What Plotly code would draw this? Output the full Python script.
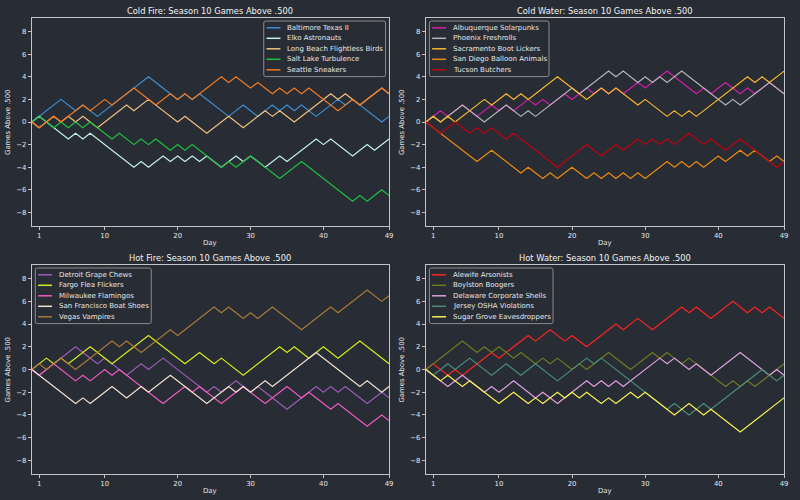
import plotly.graph_objects as go

# ---------------- data: (day, games above .500) at each turning point ----------------
DAY_TICKS = [1, 10, 20, 30, 40, 49]
VALUE_TICKS = [-8, -6, -4, -2, 0, 2, 4, 6, 8]

# Cold Fire
BALTIMORE = [(0,0),(4,2),(6,1),(7,1.5),(9,0.5),(16,4),(19,2.5),(20,2),(21,2.5),(22,2),(23,2.5),(27,0.5),
             (29,1.5),(31,0.5),(33,1.5),(34,1),(35,1.5),(36,1),(37,1.5),(39,0.5),(42,2),(43,1.5),(44,2),(48,0),(49,0.5)]
ELKO = [(0,0),(1,0.5),(5,-1.5),(6,-1),(7,-1.5),(8,-1),(14,-4),(15,-3.5),(16,-4),(18,-3),(19,-3.5),(20,-3),(21,-3.5),
        (22,-3),(23,-3.5),(24,-3),(26,-4),(27,-3.5),(28,-3),(29,-3.5),(30,-3),(32,-4),(33,-3.5),(34,-3),(35,-3.5),
        (39,-1.5),(40,-2),(41,-1.5),(44,-3),(46,-2),(47,-2.5),(49,-1.5)]
LONG_BEACH = [(0,0),(1,-0.5),(2,0),(3,0.5),(4,0),(5,0.5),(6,0),(7,0.5),(9,-0.5),(13,1.5),(14,1),(16,2),(20,0),(21,0.5),
              (24,-1),(27,0.5),(29,-0.5),(32,1),(33,0.5),(34,1),(36,0),(41,2.5),(42,2),(43,2.5),(45,1.5),(48,3),(49,2.5)]
SALT_LAKE = [(0,0),(1,0.5),(2,0),(3,-0.5),(4,0),(5,-0.5),(6,0),(7,-0.5),(8,0),(11,-1.5),(12,-1),(14,-2),(15,-1.5),(16,-2),
             (17,-1.5),(19,-2.5),(20,-2),(21,-2.5),(22,-2),(26,-4),(27,-3.5),(28,-4),(30,-3),(33,-4.5),(34,-5),(37,-3.5),
             (44,-7),(45,-6.5),(46,-7),(48,-6),(49,-6.5)]
SEATTLE = [(0,0),(1,-0.5),(3,0.5),(4,0),(7,1.5),(8,1),(10,2),(11,1.5),(14,3),(17,1.5),(19,2.5),(20,2),(21,2.5),(22,2),
           (26,4),(27,3.5),(28,4),(30,3),(31,3.5),(33,2.5),(34,3),(35,2.5),(36,3),(37,2.5),(38,3),(42,1),(44,2),(45,1.5),
           (48,3),(49,2.5)]

# Cold Water
ALBUQUERQUE = [(0,0),(2,1),(3,0.5),(4,1),(5,1.5),(6,1),(7,0.5),(9,1.5),(10,1),(11,1.5),(12,1),(14,2),(15,1.5),(16,2),
               (17,1.5),(19,2.5),(20,2),(21,2.5),(22,3),(23,2.5),(24,3),(25,2.5),(26,3),(27,2.5),(29,3.5),(30,3),(32,4),
               (33,4.5),(37,2.5),(38,3),(39,2.5),(41,3.5),(43,2.5),(44,3),(45,2.5),(47,3.5),(49,2.5)]
PHOENIX = [(0,0),(1,0.5),(2,0),(3,0.5),(5,1.5),(8,0),(11,1.5),(13,0.5),(14,1),(15,0.5),(20,3),(21,2.5),(25,4.5),(26,4),
           (27,4.5),(29,3.5),(30,4),(31,3.5),(32,4),(33,3.5),(35,4.5),(41,1.5),(42,2),(43,1.5),(47,3.5),(49,2.5)]
SACRAMENTO = [(0,0),(1,0.5),(2,0),(3,0.5),(4,0),(8,2),(9,1.5),(11,2.5),(12,2),(13,2.5),(14,2),(18,4),(22,2),(24,3),
              (25,2.5),(26,3),(29,1.5),(30,2),(33,0.5),(34,1),(35,0.5),(36,1),(37,0.5),(44,4),(45,3.5),(46,4),(47,3.5),
              (49,4.5)]
SAN_DIEGO = [(0,0),(7,-3.5),(9,-2.5),(13,-4.5),(14,-4),(16,-5),(17,-4.5),(18,-5),(20,-4),(22,-5),(23,-4.5),(24,-5),
             (25,-4.5),(26,-5),(27,-4.5),(28,-5),(29,-4.5),(30,-5),(33,-3.5),(34,-4),(35,-3.5),(36,-4),(37,-3.5),(38,-4),
             (40,-3),(41,-3.5),(43,-2.5),(44,-3),(45,-2.5),(47,-3.5),(48,-3),(49,-3.5)]
TUCSON = [(0,0),(2,-1),(4,0),(6,-1),(7,-0.5),(8,-1),(9,-0.5),(11,-1.5),(12,-1),(18,-4),(22,-2),(24,-3),(26,-2),(27,-2.5),
          (29,-1.5),(30,-2),(31,-1.5),(32,-2),(33,-1.5),(34,-2),(36,-1),(38,-2),(39,-1.5),(41,-2.5),(43,-1.5),(45,-2.5),
          (48,-4),(49,-3.5)]

# Hot Fire
DETROIT = [(0,0),(1,-0.5),(6,2),(7,1.5),(9,0.5),(10,1),(13,-0.5),(15,0.5),(16,0),(18,1),(23,-1.5),(24,-2),(25,-1.5),
           (26,-2),(28,-1),(30,-2),(31,-1.5),(32,-2),(35,-3.5),(39,-1.5),(40,-2),(41,-1.5),(42,-2),(43,-1.5),(46,-3),
           (48,-2),(49,-2.5)]
FARGO = [(0,0),(2,1),(3,0.5),(4,1),(5,0.5),(8,2),(11,0.5),(16,3),(21,0.5),(23,1.5),(25,0.5),(26,1),(29,-0.5),(33,1.5),
         (34,2),(35,1.5),(36,2),(38,1),(40,2),(42,1),(45,2.5),(49,0.5)]
MILWAUKEE = [(0,0),(1,-0.5),(2,0),(3,0.5),(4,0),(6,-1),(7,-0.5),(8,-1),(10,0),(11,-0.5),(12,0),(16,-2),(18,-3),
             (21,-1.5),(22,-2),(23,-1.5),(26,-3),(28,-2),(29,-1.5),(32,-3),(33,-2.5),(35,-1.5),(37,-2.5),(38,-2),
             (41,-3.5),(42,-3),(46,-5),(48,-4),(49,-4.5)]
SAN_FRANCISCO = [(0,0),(6,-3),(7,-2.5),(8,-3),(11,-1.5),(13,-2.5),(15,-1.5),(16,-2),(19,-0.5),(24,-3),(27,-1.5),
                 (28,-2),(29,-1.5),(30,-2),(32,-1),(33,-1.5),(39,1.5),(45,-1.5),(46,-1),(48,-2),(49,-1.5)]
VEGAS = [(0,0),(1,0.5),(2,0),(3,0.5),(4,1),(6,0),(11,2.5),(12,2),(13,2.5),(15,1.5),(19,3.5),(20,3),(25,5.5),(26,5),
         (27,5.5),(29,4.5),(30,5),(31,4.5),(33,5.5),(37,3.5),(41,5.5),(42,5),(46,7),(48,6),(49,6.5)]

# Hot Water
ALEWIFE = [(0,0),(1,0.5),(3,-0.5),(4,0),(5,-0.5),(9,1.5),(10,1),(14,3),(15,2.5),(17,3.5),(19,2.5),(20,3),(22,2),
           (26,4),(27,3.5),(29,4.5),(31,3.5),(33,4.5),(35,5.5),(36,5),(37,5.5),(39,4.5),(42,6),(44,5),(45,5.5),
           (46,5),(47,5.5),(49,4.5)]
BOYLSTON = [(0,0),(5,2.5),(7,1.5),(8,2),(9,1.5),(10,2),(12,1),(13,1.5),(15,0.5),(16,1),(17,0.5),(18,1),(20,0),(21,0.5),
            (22,0),(25,1.5),(28,0),(31,1.5),(32,1),(33,1.5),(34,1),(35,0.5),(36,1),(37,0.5),(39,-0.5),(41,-1.5),
            (42,-1),(43,-1.5),(44,-1),(45,-1.5),(49,0.5)]
DELAWARE = [(0,0),(3,-1.5),(5,-0.5),(8,-2),(9,-1.5),(10,-2),(12,-1),(14,-2),(15,-2.5),(16,-2),(18,-3),(22,-1),
            (23,-1.5),(24,-1),(25,-1.5),(26,-1),(27,-1.5),(32,1),(33,0.5),(34,1),(36,0),(37,0.5),(39,-0.5),(43,1.5),
            (47,-0.5),(48,0),(49,-0.5)]
JERSEY = [(0,0),(1,-0.5),(3,0.5),(4,0),(6,1),(9,-0.5),(11,0.5),(13,-0.5),(15,0.5),(16,0),(18,-1),(22,1),(23,0.5),
          (24,1),(33,-3.5),(34,-3),(36,-4),(38,-3),(39,-3.5),(46,0),(48,-1),(49,-0.5)]
SUGAR_GROVE = [(0,0),(2,-1),(3,-0.5),(5,-1.5),(6,-1),(10,-3),(12,-2),(14,-3),(15,-2.5),(16,-3),(18,-2),(19,-2.5),
               (20,-2),(21,-2.5),(22,-2),(24,-3),(25,-2.5),(26,-3),(28,-2),(29,-2.5),(30,-2),(33,-3.5),(34,-4),
               (36,-3),(38,-4),(39,-3.5),(43,-5.5),(49,-2.5)]

PANELS = [
    ("Cold Fire: Season 10 Games Above .500", "right", [
        ("Baltimore Texas II", BALTIMORE, "#3f8fd4"),
        ("Elko Astronauts", ELKO, "#c4eef0"),
        ("Long Beach Flightless Birds", LONG_BEACH, "#f2c07e"),
        ("Salt Lake Turbulence", SALT_LAKE, "#1fc040"),
        ("Seattle Sneakers", SEATTLE, "#f07a22"),
    ]),
    ("Cold Water: Season 10 Games Above .500", "left", [
        ("Albuquerque Solarpunks", ALBUQUERQUE, "#d21eaa"),
        ("Phoenix Freshrolls", PHOENIX, "#b4b4bc"),
        ("Sacramento Boot Lickers", SACRAMENTO, "#f8b82c"),
        ("San Diego Balloon Animals", SAN_DIEGO, "#ee8a0e"),
        ("Tucson Butchers", TUCSON, "#c2000e"),
    ]),
    ("Hot Fire: Season 10 Games Above .500", "left", [
        ("Detroit Grape Chews", DETROIT, "#9c5cb6"),
        ("Fargo Flea Flickers", FARGO, "#d8ea1c"),
        ("Milwaukee Flamingos", MILWAUKEE, "#f05ac2"),
        ("San Francisco Boat Shoes", SAN_FRANCISCO, "#f2e2d2"),
        ("Vegas Vampires", VEGAS, "#a87a3a"),
    ]),
    ("Hot Water: Season 10 Games Above .500", "left", [
        ("Alewife Arsonists", ALEWIFE, "#ff2222"),
        ("Boylston Boogers", BOYLSTON, "#6e7c1e"),
        ("Delaware Corporate Shells", DELAWARE, "#e0a2e0"),
        ("Jersey OSHA Violations", JERSEY, "#4c8e7a"),
        ("Sugar Grove Eavesdroppers", SUGAR_GROVE, "#f8f252"),
    ]),
]

# ---------------- layout geometry (pixels in an 800x500 page) ----------------
W, H = 800, 500
BG = "#282c34"
FG = "#e6e6e6"
SPINE = "#c4c4c4"
FONT = "DejaVu Sans"
COLS = [(32, 391), (428, 788)]
ROWS = [(18, 226), (265, 474)]
SMALL = 6.9      # tick / axis-label font (px)
LEG = 7.0        # legend font (px)
TITLE = 8.3      # title font (px)
LW = 1.2         # line width (px)

# approximate DejaVu Sans advance widths (em) for sizing the legend frame
_W = {' ': .318, 'a': .613, 'b': .635, 'c': .550, 'd': .635, 'e': .615, 'f': .352, 'g': .635, 'h': .634, 'i': .278,
      'j': .278, 'k': .579, 'l': .278, 'm': .974, 'n': .634, 'o': .612, 'p': .635, 'q': .635, 'r': .411, 's': .521,
      't': .392, 'u': .634, 'v': .592, 'w': .818, 'x': .592, 'y': .592, 'z': .525, 'A': .684, 'B': .686, 'C': .698,
      'D': .770, 'E': .632, 'F': .575, 'G': .775, 'H': .752, 'I': .295, 'J': .295, 'K': .656, 'L': .557, 'M': .863,
      'N': .748, 'O': .787, 'P': .603, 'Q': .787, 'R': .695, 'S': .635, 'T': .611, 'U': .732, 'V': .684, 'W': .989,
      'X': .685, 'Y': .611, 'Z': .685}


def text_px(s, size):
    return sum(_W.get(ch, 0.6) for ch in s) * size


def fx(x):
    return x / W


def fy(y):
    return 1 - y / H


fig = go.Figure()
annotations, shapes = [], []
layout = dict(width=W, height=H, margin=dict(l=0, r=0, t=0, b=0), paper_bgcolor=BG, plot_bgcolor=BG,
              font=dict(family=FONT, color=FG, size=SMALL), showlegend=False)

for i, (title, legend_side, series) in enumerate(PANELS):
    r, c = divmod(i, 2)
    x0, x1 = COLS[c]
    y0, y1 = ROWS[r]
    ax = "" if i == 0 else str(i + 1)
    for name, pts, color in series:
        fig.add_trace(go.Scatter(
            x=[p[0] for p in pts], y=[p[1] for p in pts], name=name, mode="lines",
            line=dict(color=color, width=LW), xaxis="x" + ax, yaxis="y" + ax, hoverinfo="skip"))
    axis_common = dict(showline=True, mirror=True, linecolor=SPINE, linewidth=1,
                       showgrid=False, zeroline=False, ticks="outside", ticklen=3,
                       tickcolor=SPINE, tickfont=dict(size=SMALL, color=FG, family=FONT))
    layout["xaxis" + ax] = dict(domain=[x0 / W, x1 / W], range=[0, 49], tickvals=DAY_TICKS,
                                anchor="y" + ax, **axis_common)
    layout["yaxis" + ax] = dict(domain=[1 - y1 / H, 1 - y0 / H], range=[-9.2, 9.2], tickvals=VALUE_TICKS,
                                anchor="x" + ax, **axis_common)
    cx = (x0 + x1) / 2
    annotations += [
        dict(text=title, x=fx(cx), y=fy(y0 - 7.5), xref="paper", yref="paper", showarrow=False,
             font=dict(size=TITLE, color="#f2f2f2"), xanchor="center", yanchor="middle"),
        dict(text="Day", x=fx(cx), y=fy(y1 + 17), xref="paper", yref="paper", showarrow=False,
             font=dict(size=SMALL, color=FG), xanchor="center", yanchor="middle"),
        dict(text="Games Above .500", x=fx(x0 - 24), y=fy((y0 + y1) / 2), xref="paper", yref="paper",
             showarrow=False, textangle=-90, font=dict(size=SMALL, color=FG), xanchor="center", yanchor="middle"),
    ]

    # ---- legend frame (matplotlib-like proportions) ----
    pad, handle, gap, row = 2.8, 14.0, 5.6, 10.5
    maxw = max(text_px(n, LEG) for n, _, _ in series)
    box_w = pad + handle + gap + maxw + pad + 1
    box_h = 2 * pad + 8 + row * (len(series) - 1)
    if legend_side == "right":
        bx1 = x1 - 3.5
        bx0 = bx1 - box_w
    else:
        bx0 = x0 + 3.5
        bx1 = bx0 + box_w
    by0 = y0 + 3.0
    by1 = by0 + box_h
    rr = 2.0
    path = ("M {a},{b} L {c},{b} Q {d},{b} {d},{e} L {d},{f} Q {d},{g} {c},{g} L {a},{g} "
            "Q {h},{g} {h},{f} L {h},{e} Q {h},{b} {a},{b} Z").format(
        a=fx(bx0 + rr), c=fx(bx1 - rr), d=fx(bx1), h=fx(bx0),
        b=fy(by0), e=fy(by0 + rr), f=fy(by1 - rr), g=fy(by1))
    shapes.append(dict(type="path", path=path, xref="paper", yref="paper", layer="above",
                       fillcolor="rgba(40,44,52,0.82)", line=dict(color="#8c8c8c", width=1)))
    for k, (name, _, color) in enumerate(series):
        yy = by0 + pad + 4 + k * row
        hx0 = bx0 + pad
        shapes.append(dict(type="line", xref="paper", yref="paper", layer="above",
                           x0=fx(hx0), x1=fx(hx0 + handle), y0=fy(yy), y1=fy(yy),
                           line=dict(color=color, width=LW + 0.3)))
        annotations.append(dict(text=name, x=fx(hx0 + handle + gap), y=fy(yy), xref="paper", yref="paper",
                                showarrow=False, xanchor="left", yanchor="middle", borderpad=0,
                                font=dict(size=LEG, color=FG)))

layout["annotations"] = annotations
layout["shapes"] = shapes
fig.update_layout(**layout)
fig.write_html("out.html")
